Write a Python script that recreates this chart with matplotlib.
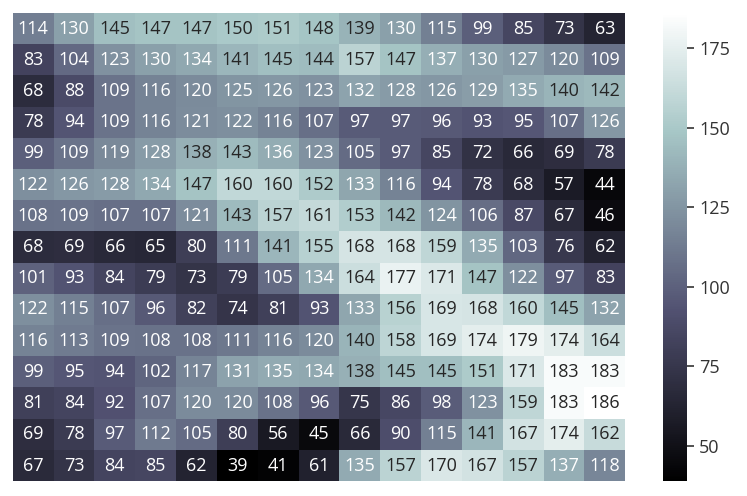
import numpy as np
import matplotlib
matplotlib.use("Agg")
import matplotlib.pyplot as plt
import seaborn as sns

values = [
    [114, 130, 145, 147, 147, 150, 151, 148, 139, 130, 115, 99, 85, 73, 63],
    [83, 104, 123, 130, 134, 141, 145, 144, 157, 147, 137, 130, 127, 120, 109],
    [68, 88, 109, 116, 120, 125, 126, 123, 132, 128, 126, 129, 135, 140, 142],
    [78, 94, 109, 116, 121, 122, 116, 107, 97, 97, 96, 93, 95, 107, 126],
    [99, 109, 119, 128, 138, 143, 136, 123, 105, 97, 85, 72, 66, 69, 78],
    [122, 126, 128, 134, 147, 160, 160, 152, 133, 116, 94, 78, 68, 57, 44],
    [108, 109, 107, 107, 121, 143, 157, 161, 153, 142, 124, 106, 87, 67, 46],
    [68, 69, 66, 65, 80, 111, 141, 155, 168, 168, 159, 135, 103, 76, 62],
    [101, 93, 84, 79, 73, 79, 105, 134, 164, 177, 171, 147, 122, 97, 83],
    [122, 115, 107, 96, 82, 74, 81, 93, 133, 156, 169, 168, 160, 145, 132],
    [116, 113, 109, 108, 108, 111, 116, 120, 140, 158, 169, 174, 179, 174, 164],
    [99, 95, 94, 102, 117, 131, 135, 134, 138, 145, 145, 151, 171, 183, 183],
    [81, 84, 92, 107, 120, 120, 108, 96, 75, 86, 98, 123, 159, 183, 186],
    [69, 78, 97, 112, 105, 80, 56, 45, 66, 90, 115, 141, 167, 174, 162],
    [67, 73, 84, 85, 62, 39, 41, 61, 135, 157, 170, 167, 157, 137, 118],
]
cbar_ticks = [50, 75, 100, 125, 150, 175]

sns.set_theme(style="white")
plt.rcParams["font.family"] = ["Open Sans", "DejaVu Sans"]

fig = plt.figure(figsize=(7.47, 4.96), dpi=100)
ax = fig.add_axes([0.017, 0.030, 0.820, 0.944])
cax = fig.add_axes([0.888, 0.030, 0.032, 0.944])

data = np.array(values)
sns.heatmap(data, ax=ax, cbar_ax=cax, cmap="bone", annot=True, fmt="d",
            annot_kws={"fontsize": 13}, xticklabels=False, yticklabels=False)

cax.set_yticks(cbar_ticks)
cax.tick_params(labelsize=13, length=5, width=1.2, color="#333333", labelcolor="#333333")
cax.yaxis.set_ticks_position("right")

fig.savefig("out.png", dpi=100)
